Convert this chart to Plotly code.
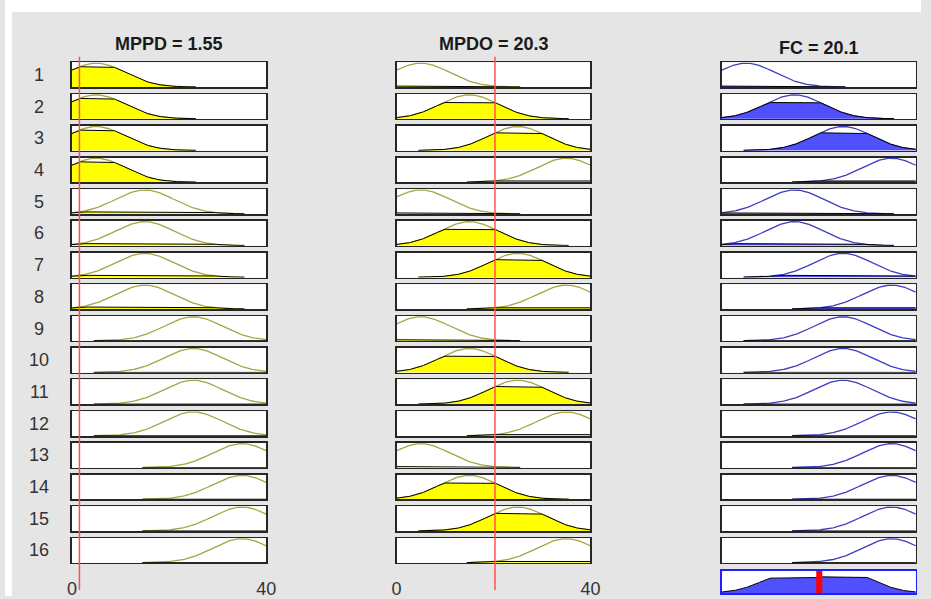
import numpy as np
import plotly.graph_objects as go

# ---------------- data ----------------
input_names = ["MPPD", "MPDO"]
input_values = [1.55, 20.3]
output_name = "FC"
output_value = 20.1
var_range = [0, 40]
tick_vals = [0, 40]
tick_labels = ["0", "40"]
# Gaussian membership functions: low, medium, high, very high
mf_centers = [5, 15, 25, 35]
mf_sigma = 6.0
mf_halfwidth = 20.5          # extent over which each MF curve is drawn
# rule base (index into mf_centers)
rule_mppd = [0, 0, 0, 0, 1, 1, 1, 1, 2, 2, 2, 2, 3, 3, 3, 3]
rule_mpdo = [0, 1, 2, 3, 0, 1, 2, 3, 0, 1, 2, 3, 0, 1, 2, 3]
rule_fc = [0, 1, 2, 3, 1, 1, 2, 3, 2, 2, 2, 3, 3, 3, 3, 3]
rule_labels = [str(i) for i in range(1, 17)]

# ---------------- layout constants (screen pixels) ----------------
W, H = 931, 599
col_x = [(68, 265.5), (398, 595), (728.5, 925.7)]
row_top0, row_pitch, row_h = 62.7, 31.87, 25
agg_y = (573.5, 596)
red_y = (57, 593)
FONT = "Liberation Sans, Arial, sans-serif"

IN_LINE = "rgb(165,165,65)"
IN_FILL = "#ffff00"
OUT_LINE = "rgb(60,60,195)"
OUT_FILL = "rgb(80,80,255)"
BOX = "#262626"
CELL_YRANGE = [-0.01, 1.03]
AGG_YRANGE = [0, 1.02]


def px_x(x):
    return x / W


def px_y(y):
    return 1 - y / H


def mf(x, c):
    return np.exp(-((x - c) ** 2) / (2 * mf_sigma ** 2))


def mf_grid(c):
    lo = max(var_range[0], c - mf_halfwidth)
    hi = min(var_range[1], c + mf_halfwidth)
    xs = np.linspace(lo, hi, 161)
    return xs, mf(xs, c)


fig = go.Figure()
layout_axes = {}
annotations = []


def ax_names(n):
    return ("x" if n == 1 else f"x{n}", "y" if n == 1 else f"y{n}")


def axis_style(dom, rng, color=BOX):
    return dict(domain=dom, range=rng, showgrid=False, zeroline=False,
                showticklabels=False, ticks="", showline=True, mirror=True,
                linecolor=color, linewidth=1.5, fixedrange=True)


# degrees of membership of the inputs and rule firing strengths (AND = min)
deg_in = [[float(mf(v, c)) for c in mf_centers] for v in input_values]
strengths = [min(deg_in[0][a], deg_in[1][b]) for a, b in zip(rule_mppd, rule_mpdo)]

n = 0
for r in range(16):
    y0 = row_top0 + r * row_pitch
    y1 = y0 + row_h
    mf_idx = [rule_mppd[r], rule_mpdo[r], rule_fc[r]]
    for c in range(3):
        n += 1
        xa, ya = ax_names(n)
        xs, ys = mf_grid(mf_centers[mf_idx[c]])
        if c < 2:
            level = deg_in[c][mf_idx[c]]
            lc, fc = IN_LINE, IN_FILL
        else:
            level = strengths[r]
            lc, fc = OUT_LINE, OUT_FILL
        fig.add_trace(go.Scatter(x=xs, y=ys, mode="lines", line=dict(color=lc, width=1.3),
                                 xaxis=xa, yaxis=ya, showlegend=False, hoverinfo="skip"))
        fig.add_trace(go.Scatter(x=xs, y=np.minimum(ys, level), mode="lines", fill="tozeroy",
                                 fillcolor=fc, line=dict(color="black", width=1),
                                 xaxis=xa, yaxis=ya, showlegend=False, hoverinfo="skip"))
        xd = dict(axis_style([px_x(col_x[c][0]), px_x(col_x[c][1])], var_range), anchor=ya)
        if r == 15 and c < 2:
            xd.update(showticklabels=True, tickmode="array", tickvals=tick_vals,
                      ticktext=tick_labels, ticklabelstandoff=9,
                      tickfont=dict(family=FONT, size=18, color="#333333"))
        layout_axes["xaxis" if n == 1 else f"xaxis{n}"] = xd
        layout_axes["yaxis" if n == 1 else f"yaxis{n}"] = dict(
            axis_style([px_y(y1), px_y(y0)], CELL_YRANGE), anchor=xa)
    annotations.append(dict(text=rule_labels[r], xref="paper", yref="paper",
                            x=px_x(35), y=px_y(y0 + row_h / 2), showarrow=False,
                            xanchor="center", yanchor="middle",
                            font=dict(family=FONT, size=18, color="#333333")))

# aggregated output
n += 1
xa, ya = ax_names(n)
xs = np.linspace(var_range[0], var_range[1], 401)
agg = np.zeros_like(xs)
for k, s in enumerate(strengths):
    c0 = mf_centers[rule_fc[k]]
    m = np.where(np.abs(xs - c0) <= mf_halfwidth, mf(xs, c0), 0.0)
    agg = np.maximum(agg, np.minimum(m, s))
fig.add_trace(go.Scatter(x=xs, y=agg, mode="lines", fill="tozeroy", fillcolor=OUT_FILL,
                         line=dict(color="black", width=1), xaxis=xa, yaxis=ya,
                         showlegend=False, hoverinfo="skip"))
fig.add_trace(go.Scatter(x=[output_value, output_value], y=AGG_YRANGE, mode="lines",
                         line=dict(color="#ff0000", width=6), xaxis=xa, yaxis=ya,
                         showlegend=False, hoverinfo="skip"))
layout_axes[f"xaxis{n}"] = dict(axis_style([px_x(col_x[2][0]), px_x(col_x[2][1])], var_range,
                                           color="#2020ff"), anchor=ya)
layout_axes[f"yaxis{n}"] = dict(axis_style([px_y(agg_y[1]), px_y(agg_y[0])], AGG_YRANGE,
                                           color="#2020ff"), anchor=xa)

# titles
titles = [f"{input_names[0]} = {input_values[0]}", f"{input_names[1]} = {input_values[1]}",
          f"{output_name} = {output_value}"]
title_y = [44, 44, 48]
for c in range(3):
    annotations.append(dict(text=f"<b>{titles[c]}</b>", xref="paper", yref="paper",
                            x=px_x((col_x[c][0] + col_x[c][1]) / 2), y=px_y(title_y[c]),
                            showarrow=False, xanchor="center", yanchor="middle",
                            font=dict(family=FONT, size=18, color="#1a1a1a")))

shapes = [
    dict(type="rect", xref="paper", yref="paper", x0=0, x1=1, y0=px_y(12), y1=1,
         fillcolor="white", line=dict(width=0), layer="below"),
    dict(type="rect", xref="paper", yref="paper", x0=0, x1=px_x(7), y0=0, y1=1,
         fillcolor="white", line=dict(width=0), layer="below"),
]
for c in range(2):
    shapes.append(dict(type="line", xref="x" if c == 0 else "x2", yref="paper",
                       x0=input_values[c], x1=input_values[c],
                       y0=px_y(red_y[1]), y1=px_y(red_y[0]),
                       line=dict(color="rgb(255,80,80)", width=1.5), layer="above"))

fig.update_layout(width=W, height=H, margin=dict(l=0, r=0, t=0, b=0),
                  paper_bgcolor="#e5e5e5", plot_bgcolor="white",
                  annotations=annotations, shapes=shapes, showlegend=False,
                  dragmode=False, hovermode=False, **layout_axes)

post_js = (
    "var h=document.documentElement,b=document.body;"
    "h.style.margin=b.style.margin='0';h.style.padding=b.style.padding='0';"
    "h.style.overflow=b.style.overflow='hidden';"
    "h.style.width=b.style.width='931px';h.style.height=b.style.height='599px';"
    "var g=document.getElementById('{plot_id}');"
    "if(g&&g.parentElement){var p=g.parentElement;p.style.width='931px';"
    "p.style.height='599px';p.style.overflow='hidden';p.style.position='relative';}"
)
fig.write_html("out.html", config={"displayModeBar": False, "staticPlot": True},
               post_script=post_js)
